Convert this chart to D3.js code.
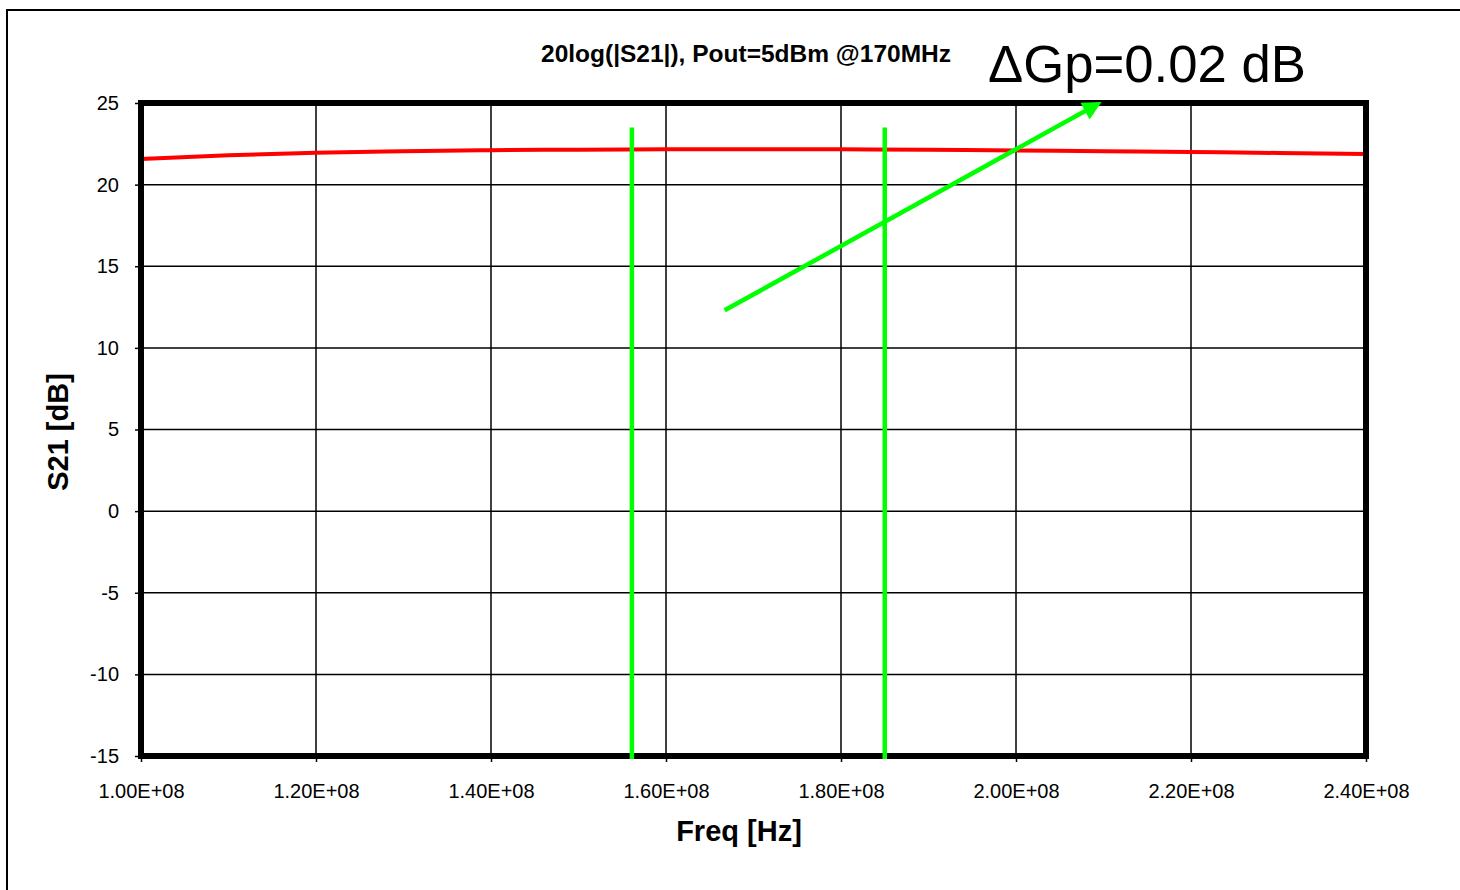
<!DOCTYPE html>
<html>
<head>
<meta charset="utf-8">
<script src="https://cdn.jsdelivr.net/npm/d3@7"></script>
<style>
html,body{margin:0;padding:0;background:#fff;}
svg{display:block;font-family:Arial,"Liberation Sans",sans-serif;}
</style>
</head>
<body>
<svg id="chart" width="1460" height="890"></svg>
<script>
// ---- data ----
const freqs = [1.0e8,1.1e8,1.2e8,1.3e8,1.4e8,1.5e8,1.6e8,1.7e8,1.8e8,1.9e8,2.0e8,2.1e8,2.2e8,2.3e8,2.4e8];
const s21dB = [21.57,21.80,21.96,22.05,22.11,22.14,22.16,22.17,22.16,22.13,22.09,22.05,22.00,21.94,21.88];
const xTicks = [1.0e8,1.2e8,1.4e8,1.6e8,1.8e8,2.0e8,2.2e8,2.4e8];
const xTickLabels = ["1.00E+08","1.20E+08","1.40E+08","1.60E+08","1.80E+08","2.00E+08","2.20E+08","2.40E+08"];
const yTicks = [25,20,15,10,5,0,-5,-10,-15];
const yTickLabels = ["25","20","15","10","5","0","-5","-10","-15"];
const markerFreqs = [1.561e8, 1.850e8];
const markerTop = 23.5;
const arrowFrom = [1.667e8, 12.3];
const arrowTo = [2.094e8, 24.95];
const titleText = "20log(|S21|), Pout=5dBm @170MHz";
const noteText = "\u0394Gp=0.02 dB";
const xTitle = "Freq [Hz]";
const yTitle = "S21 [dB]";

// ---- layout ----
const L = 141, R = 1366, T = 103, B = 756;
const svg = d3.select("#chart");
const x = d3.scaleLinear().domain([1.0e8, 2.4e8]).range([L, R]);
const y = d3.scaleLinear().domain([-15, 25]).range([B, T]);

// outer frame
svg.append("rect").attr("x",7).attr("y",10).attr("width",1480).attr("height",900)
  .attr("fill","#fff").attr("stroke","#000").attr("stroke-width",2);

// grid
const g = svg.append("g");
g.selectAll("line.vg").data(xTicks).join("line").attr("class","vg")
  .attr("x1",d=>x(d)).attr("x2",d=>x(d)).attr("y1",T).attr("y2",B)
  .attr("stroke","#000").attr("stroke-width",1.5);
g.selectAll("line.hg").data(yTicks).join("line").attr("class","hg")
  .attr("x1",L).attr("x2",R).attr("y1",d=>y(d)).attr("y2",d=>y(d))
  .attr("stroke","#000").attr("stroke-width",1.5);

// axes (ticks + labels)
const xAxis = d3.axisBottom(x).tickValues(xTicks).tickSize(6).tickPadding(22)
  .tickFormat((d,i)=>xTickLabels[i]);
const ax = svg.append("g").attr("transform",`translate(0,${B})`).call(xAxis);
ax.select(".domain").remove();
ax.selectAll(".tick line").attr("stroke","#000").attr("stroke-width",1.5);
ax.selectAll(".tick text").attr("font-size",20).attr("font-family","Arial, 'Liberation Sans', sans-serif").attr("fill","#000");

const yAxis = d3.axisLeft(y).tickValues(yTicks).tickSize(6).tickPadding(16)
  .tickFormat((d,i)=>yTickLabels[i]);
const ay = svg.append("g").attr("transform",`translate(${L},0)`).call(yAxis);
ay.select(".domain").remove();
ay.selectAll(".tick line").attr("stroke","#000").attr("stroke-width",1.5);
ay.selectAll(".tick text").attr("font-size",20).attr("font-family","Arial, 'Liberation Sans', sans-serif").attr("fill","#000");

// series
const line = d3.line().x((d,i)=>x(freqs[i])).y(d=>y(d)).curve(d3.curveMonotoneX);
svg.append("path").datum(s21dB).attr("d",line)
  .attr("fill","none").attr("stroke","#ff0000").attr("stroke-width",4);

// plot border
svg.append("rect").attr("x",L).attr("y",T).attr("width",R-L).attr("height",B-T)
  .attr("fill","none").attr("stroke","#000").attr("stroke-width",6);

// markers
svg.selectAll("line.mk").data(markerFreqs).join("line").attr("class","mk")
  .attr("x1",d=>x(d)).attr("x2",d=>x(d)).attr("y1",y(markerTop)).attr("y2",y(-15)+3)
  .attr("stroke","#00ff00").attr("stroke-width",4.5);

// arrow
const defs = svg.append("defs");
defs.append("marker").attr("id","ah").attr("viewBox","0 0 10 10").attr("refX",8).attr("refY",5)
  .attr("markerWidth",5).attr("markerHeight",4.2).attr("markerUnits","strokeWidth").attr("orient","auto")
  .append("path").attr("d","M0,0 L10,5 L0,10 Z").attr("fill","#00ff00");
svg.append("line")
  .attr("x1",x(arrowFrom[0])).attr("y1",y(arrowFrom[1]))
  .attr("x2",x(arrowTo[0])).attr("y2",y(arrowTo[1]))
  .attr("stroke","#00ff00").attr("stroke-width",4.5).attr("marker-end","url(#ah)");

// texts
svg.append("text").attr("x",746).attr("y",62).attr("text-anchor","middle")
  .attr("font-size",23).attr("font-weight","bold").attr("textLength",410).attr("lengthAdjust","spacingAndGlyphs")
  .text(titleText);
svg.append("text").attr("x",988).attr("y",82)
  .attr("font-size",51).attr("textLength",318).attr("lengthAdjust","spacingAndGlyphs")
  .text(noteText);
svg.append("text").attr("x",739).attr("y",841).attr("text-anchor","middle")
  .attr("font-size",29).attr("font-weight","bold").text(xTitle);
svg.append("text").attr("transform","translate(68,432) rotate(-90)").attr("text-anchor","middle")
  .attr("font-size",29).attr("font-weight","bold").text(yTitle);
</script>
</body>
</html>
